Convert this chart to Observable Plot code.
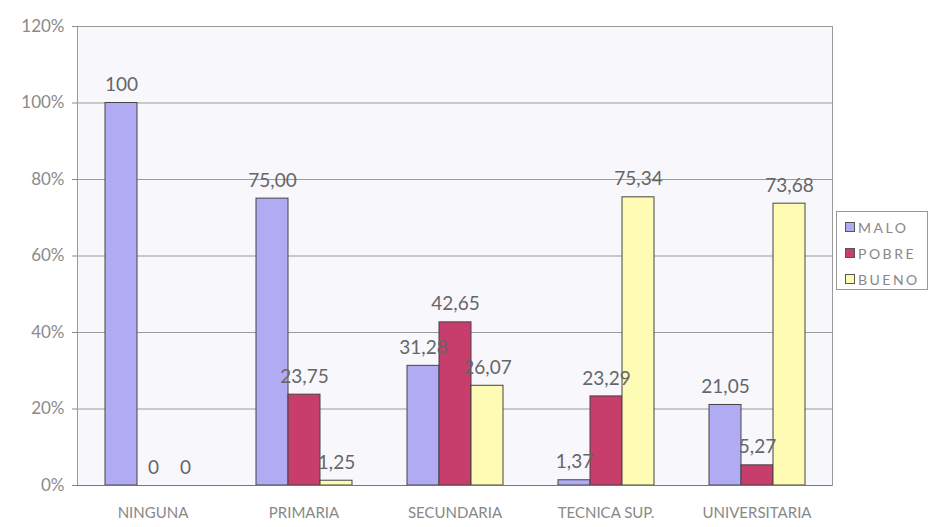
<!DOCTYPE html>
<html>
<head>
<meta charset="utf-8">
<script src="https://cdn.jsdelivr.net/npm/d3@7"></script>
<script src="https://cdn.jsdelivr.net/npm/@observablehq/plot@0.6"></script>
<style>
  html, body { margin: 0; padding: 0; background: #fff; }
  #wrap { position: relative; width: 930px; height: 527px; font-family: Lato, sans-serif; }
  #legend { position: absolute; left: 836px; top: 211px; width: 92px; height: 79px; box-sizing: border-box;
            border: 1px solid #999; background: #fff; padding-top: 2px; }
  .item { display: flex; align-items: center; height: 26px; padding-left: 8px; color: #888; font-size: 14px; letter-spacing: 2.5px; }
  .sw { width: 8px; height: 8px; border: 1px solid #555; margin-right: 3px; flex: none; }
</style>
</head>
<body>
<div id="wrap"></div>
<script>
const categories = ["NINGUNA", "PRIMARIA", "SECUNDARIA", "TECNICA SUP.", "UNIVERSITARIA"];
const series = ["MALO", "POBRE", "BUENO"];
const malo  = [100, 75.00, 31.28, 1.37, 21.05];
const pobre = [0, 23.75, 42.65, 23.29, 5.27];
const bueno = [0, 1.25, 26.07, 75.34, 73.68];
const maloLabels  = ["100", "75,00", "31,28", "1,37", "21,05"];
const pobreLabels = ["0", "23,75", "42,65", "23,29", "5,27"];
const buenoLabels = ["0", "1,25", "26,07", "75,34", "73,68"];
const yTicks = [0, 20, 40, 60, 80, 100, 120];
const yTickLabels = ["0%", "20%", "40%", "60%", "80%", "100%", "120%"];
const colors = ["#b1abf3", "#c73d6c", "#fdfbb4"];

const values = [malo, pobre, bueno];
const labels = [maloLabels, pobreLabels, buenoLabels];
const data = [];
categories.forEach((c, i) => series.forEach((s, j) => data.push({cat: c, series: s, value: values[j][i], label: labels[j][i]})));

const chart = Plot.plot({
  width: 930, height: 527,
  marginLeft: 75, marginRight: 97, marginTop: 26, marginBottom: 42,
  style: {fontFamily: "Lato, sans-serif", background: "transparent"},
  fx: {domain: categories, padding: 0, label: null, axis: null},
  x: {domain: series, paddingInner: 0, paddingOuter: 0.8, axis: null},
  y: {domain: [0, 120], label: null},
  color: {domain: series, range: colors},
  marks: [
    Plot.frame({fill: "#f8f8fc", stroke: null}),
    Plot.gridY(yTicks, {stroke: "#9a9a9a", strokeOpacity: 1}),
    Plot.frame({anchor: "left", facetAnchor: "left", stroke: "#9a9a9a"}),
    Plot.frame({anchor: "right", facetAnchor: "right", stroke: "#9a9a9a"}),
    Plot.axisY(yTicks, {tickFormat: (d, i) => yTickLabels[i], tickSize: 5, tickPadding: 8, fontSize: 17, color: "#8a8a8a", label: null}),
    Plot.barY(data, {fx: "cat", x: "series", y: "value", fill: "series", stroke: "#444", strokeWidth: 1}),
    Plot.ruleY([0], {stroke: "#777"}),
    Plot.text(data, {fx: "cat", x: "series", y: "value", text: "label", dy: -18, fontSize: 19, fill: "#666"}),
    Plot.axisFx({anchor: "bottom", tickSize: 0, tickPadding: 22, fontSize: 15, color: "#888", label: null, style: "letter-spacing:2px"})
  ]
});

document.getElementById("wrap").appendChild(chart);
const legend = document.createElement("div");
legend.id = "legend";
series.forEach((s, i) => {
  const it = document.createElement("div");
  it.className = "item";
  it.innerHTML = `<span class="sw" style="background:${colors[i]}"></span>${s}`;
  legend.appendChild(it);
});
document.getElementById("wrap").appendChild(legend);
</script>
</body>
</html>
